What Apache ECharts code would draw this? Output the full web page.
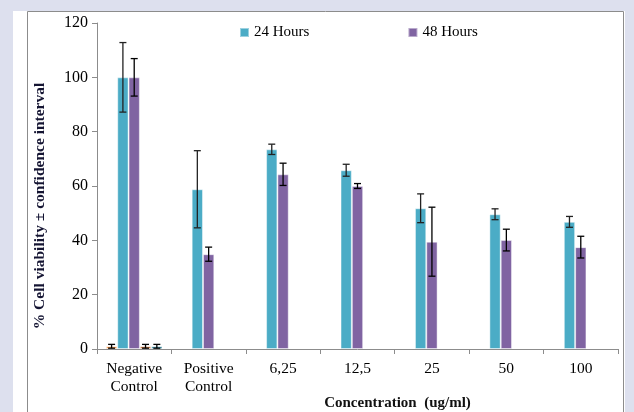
<!DOCTYPE html>
<html>
<head>
<meta charset="utf-8">
<script src="https://cdn.jsdelivr.net/npm/echarts@6/dist/echarts.min.js"></script>
<style>
  html, body { margin: 0; padding: 0; background: #dde0ee; }
  #chart { width: 634px; height: 412px; }
</style>
</head>
<body>
<div id="chart"></div>
<script>
const categories = ['Negative\nControl', 'Positive\nControl', '6,25', '12,5', '25', '50', '100'];

// means and confidence half-widths
const hours24 = [100, 58.8, 73.5, 65.8, 51.8, 49.6, 46.8];
const hours24Ci = [12.8, 14.2, 1.9, 2.2, 5.3, 2.0, 2.0];
const hours48 = [100, 34.9, 64.3, 60.0, 39.5, 40.1, 37.5];
const hours48Ci = [6.9, 2.6, 4.1, 0.9, 12.7, 4.0, 4.0];

// small control bars that only appear in the first group (no legend entry)
const ctrlA = [1, null, null, null, null, null, null];
const ctrlACi = [0.7, null, null, null, null, null, null];
const ctrlB = [1, null, null, null, null, null, null];
const ctrlBCi = [0.7, null, null, null, null, null, null];
const ctrlC = [1, null, null, null, null, null, null];
const ctrlCCi = [0.7, null, null, null, null, null, null];

const yTicks = [0, 20, 40, 60, 80, 100, 120];

const SLOTS = 5;
const CAT_GAP = 0.24;
const serif = 'Liberation Serif, Times New Roman, serif';

const chart = echarts.init(document.getElementById('chart'));

function errorSeries(values, ci, slot, color) {
  const data = [];
  values.forEach((v, i) => {
    if (v == null) return;
    data.push([i, v - ci[i], v + ci[i]]);
  });
  return {
    type: 'custom',
    silent: true,
    z: 5,
    data: data,
    encode: { x: 0, y: [1, 2] },
    renderItem: function (params, api) {
      const band = api.size([1, 0])[0];
      const group = band * (1 - CAT_GAP);
      const barW = group / SLOTS;
      const dx = -group / 2 + barW * (slot + 0.5);
      const lo = api.coord([api.value(0), api.value(1)]);
      const hi = api.coord([api.value(0), api.value(2)]);
      const x = lo[0] + dx;
      const cap = 3.5;
      const style = { stroke: color, lineWidth: 1.3 };
      return {
        type: 'group',
        children: [
          { type: 'line', shape: { x1: x, y1: lo[1], x2: x, y2: hi[1] }, style: style },
          { type: 'line', shape: { x1: x - cap, y1: hi[1], x2: x + cap, y2: hi[1] }, style: style },
          { type: 'line', shape: { x1: x - cap, y1: lo[1], x2: x + cap, y2: lo[1] }, style: style }
        ]
      };
    }
  };
}

function barSeries(name, values, color) {
  return {
    name: name,
    type: 'bar',
    data: values,
    barGap: '0%',
    barCategoryGap: (CAT_GAP * 100) + '%',
    itemStyle: { color: color, borderColor: 'rgba(255,255,255,0.45)', borderWidth: 1 }
  };
}

const option = {
  animation: false,
  graphic: [
    { type: 'rect', z: -10, shape: { x: 13, y: 11, width: 612, height: 401 }, style: { fill: '#ffffff' } },
    { type: 'polyline', z: -9, shape: { points: [[27.5, 413], [27.5, 11.5], [623.5, 11.5], [623.5, 413]] },
      style: { stroke: '#8c8c8c', lineWidth: 1, fill: null } }
  ],
  legend: {
    data: ['24 Hours', '48 Hours'],
    left: 234,
    top: 20,
    icon: 'rect',
    itemWidth: 9,
    itemHeight: 9,
    itemGap: 98,
    textStyle: { fontFamily: serif, fontSize: 15, color: '#000' }
  },
  grid: { left: 97, right: 16, top: 23, bottom: 63, outerBoundsMode: 'none', containLabel: false },
  xAxis: {
    type: 'category',
    data: categories,
    name: 'Concentration  (ug/ml)',
    nameLocation: 'middle',
    nameGap: 47,
    nameMoveOverlap: false,
    nameTextStyle: { fontFamily: serif, fontSize: 15, fontWeight: 'bold', color: '#111', padding: [0, 0, 0, 80] },
    axisLine: { lineStyle: { color: '#8c8c8c' } },
    axisTick: { show: true, alignWithLabel: false, length: 5, lineStyle: { color: '#8c8c8c' } },
    axisLabel: { fontFamily: serif, fontSize: 15.5, color: '#000', margin: 11, lineHeight: 18, interval: 0 }
  },
  yAxis: {
    type: 'value',
    min: yTicks[0],
    max: yTicks[yTicks.length - 1],
    interval: 20,
    name: '% Cell viability ± confidence interval',
    nameLocation: 'middle',
    nameGap: 49,
    nameMoveOverlap: false,
    nameTextStyle: { fontFamily: serif, fontSize: 15.5, fontWeight: 'bold', color: '#141432', padding: [0, 40, 0, 0] },
    axisLine: { show: true, lineStyle: { color: '#8c8c8c' } },
    axisTick: { show: true, length: 5, lineStyle: { color: '#8c8c8c' } },
    splitLine: { show: false },
    axisLabel: { fontFamily: serif, fontSize: 16, color: '#000', margin: 9 }
  },
  series: [
    barSeries('ctrlA', ctrlA, '#f79646'),
    barSeries('24 Hours', hours24, '#4bacc6'),
    barSeries('48 Hours', hours48, '#8064a2'),
    barSeries('ctrlB', ctrlB, '#c0682e'),
    barSeries('ctrlC', ctrlC, '#31859c'),
    errorSeries(ctrlA, ctrlACi, 0, '#000'),
    errorSeries(hours24, hours24Ci, 1, '#222'),
    errorSeries(hours48, hours48Ci, 2, '#000'),
    errorSeries(ctrlB, ctrlBCi, 3, '#000'),
    errorSeries(ctrlC, ctrlCCi, 4, '#000')
  ]
};

chart.setOption(option);
</script>
</body>
</html>
